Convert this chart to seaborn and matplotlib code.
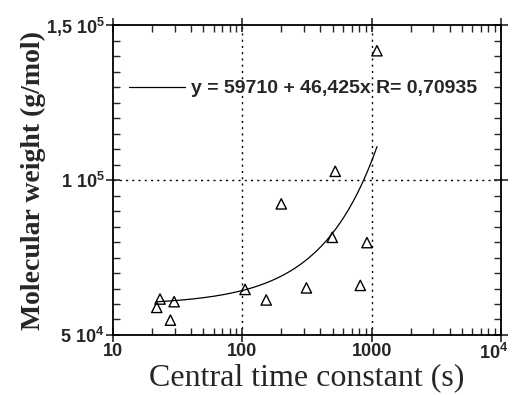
import numpy as np
import pandas as pd
import matplotlib
matplotlib.use("Agg")
import matplotlib.pyplot as plt
import matplotlib.transforms as mtransforms
import seaborn as sns
from matplotlib.ticker import FixedLocator, NullFormatter

# Data
tau = [21.8, 23.1, 27.8, 29.7, 105, 153, 200, 313, 496, 523, 817, 920, 1099]
mw = [58900, 61600, 54800, 60750, 64700, 61300, 92300, 65200, 81500, 102800, 66000, 79800, 141700]
fit_a = 59710
fit_b = 46.425
fit_range = [21.5, 1100]
fit_label = "y = 59710 + 46,425x R= 0,70935"
xticks = [10, 100, 1000, 10000]
xticklabels = ["10", "100", "1000", "10$^4$"]
yticks = [50000, 100000, 150000]
yticklabels = ["5 10$^4$", "1 10$^5$", "1,5 10$^5$"]

sns.set_style("ticks")
plt.rcParams["mathtext.default"] = "regular"
plt.rcParams["font.family"] = ["Liberation Sans", "DejaVu Sans"]

fig = plt.figure(figsize=(5.14, 3.95), dpi=100)
ax = fig.add_axes([0.2198, 0.1519, 0.7549, 0.7848])

df = pd.DataFrame({"tau": tau, "mw": mw})
xf = np.logspace(np.log10(fit_range[0]), np.log10(fit_range[1]), 200)
dfit = pd.DataFrame({"tau": xf, "mw": fit_a + fit_b * xf})

sns.lineplot(data=dfit, x="tau", y="mw", ax=ax, color="black", lw=0.9, label=fit_label)
sns.scatterplot(data=df, x="tau", y="mw", ax=ax, marker="^", s=55,
                facecolor="none", edgecolor="black", linewidth=1.0, legend=False)

ax.set_xscale("log")
ax.set_xlim(10, 10000)
ax.set_ylim(50000, 150000)

ax.set_xticks(xticks)
ax.set_xticklabels(xticklabels)
ax.xaxis.set_minor_locator(FixedLocator([m * d for d in [10, 100, 1000] for m in range(2, 10)]))
ax.xaxis.set_minor_formatter(NullFormatter())
ax.set_yticks(yticks)
ax.set_yticklabels(yticklabels)
ax.yaxis.set_minor_locator(FixedLocator(list(range(55000, 150000, 5000))))

ax.tick_params(which="major", direction="inout", length=10, width=1.2,
               top=True, right=True, bottom=True, left=True, pad=1)
ax.tick_params(which="minor", direction="in", length=5, width=1.0,
               top=True, right=True, bottom=True, left=True)

for lab in ax.get_xticklabels() + ax.get_yticklabels():
    lab.set_fontweight("bold")
    lab.set_fontsize(13)

# shift the last x label slightly left so it stays inside the figure
last = ax.get_xticklabels()[-1]
last.set_transform(last.get_transform() + mtransforms.ScaledTranslation(-7 / 100, 0, fig.dpi_scale_trans))

for s in ax.spines.values():
    s.set_linewidth(1.3)
    s.set_color("black")

for xv in [100, 1000]:
    ax.axvline(xv, color="black", ls=(0, (1.5, 3)), lw=1.0, zorder=0)
ax.axhline(100000, color="black", ls=(0, (1.5, 3)), lw=1.0, zorder=0)

ax.set_xlabel("Central time constant (s)", family=["Liberation Serif"], fontsize=23, labelpad=0)
ax.set_ylabel("Molecular weight (g/mol)", family=["Liberation Serif"], fontsize=20,
              fontweight="bold", labelpad=0)

leg = ax.legend(loc="upper left", bbox_to_anchor=(-0.005, 0.88), frameon=False,
                handlelength=2.9, handletextpad=0.3, prop={"size": 14, "weight": "bold"})

fig.savefig("out.png", dpi=100)
